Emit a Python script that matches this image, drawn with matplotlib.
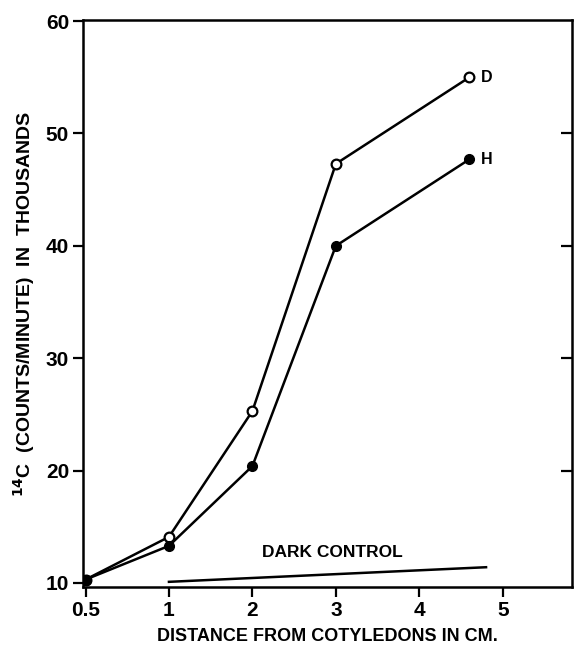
"""Plot 14C counts vs distance from cotyledons."""

import matplotlib
matplotlib.use('Agg')
import matplotlib.pyplot as plt
import numpy as np

# data (thousands of counts/minute)
distance = [0.5, 1, 2, 3, 4.6]
counts_d = [10.3, 14.1, 25.3, 47.3, 55.0]
counts_h = [10.3, 13.3, 20.4, 40.0, 47.7]
dark_x = [1, 4.8]
dark_y = [10.1, 11.4]

xticks = [0.5, 1, 2, 3, 4, 5]
xticklabels = ['0.5', '1', '2', '3', '4', '5']
yticks = [10, 20, 30, 40, 50, 60]
right_ticks = [20, 30, 40, 50]


def pos(x):
    # the 0.5 tick sits one full unit left of 1 on the original axis
    x = np.asarray(x, dtype=float)
    return np.where(x < 1, (x - 0.5) * 2, x)


plt.rcParams['font.family'] = ['Liberation Sans', 'DejaVu Sans']
plt.rcParams['font.weight'] = 'bold'
plt.rcParams['axes.labelweight'] = 'bold'
plt.rcParams['mathtext.default'] = 'bf'

fig = plt.figure(figsize=(5.74, 6.47), dpi=100)
ax = fig.add_axes([83 / 574, 60 / 647, 489 / 574, 627 / 647 - 60 / 647])

lw = 1.8
ax.plot(pos(distance), counts_d, color='black', lw=lw, marker='o',
        markersize=7, markerfacecolor='white', markeredgewidth=1.6, zorder=3)
ax.plot(pos(distance), counts_h, color='black', lw=lw, marker='o',
        markersize=7, markerfacecolor='black', zorder=3)
ax.plot(pos(dark_x), dark_y, color='black', lw=lw)

ax.text(pos(4.6) + 0.14, counts_d[-1], 'D', fontsize=11.5, va='center')
ax.text(pos(4.6) + 0.14, counts_h[-1], 'H', fontsize=11.5, va='center')
ax.text(2.12, 12.7, 'DARK CONTROL', fontsize=12.5, va='center')

ax.set_xlim(-0.03, 5.83)
ax.set_ylim(9.64, 60.1)
ax.set_xticks(pos(xticks))
ax.set_xticklabels(xticklabels)
ax.set_yticks(yticks)
ax.tick_params(axis='both', direction='out', length=7, width=1.6,
               labelsize=15, pad=3, right=False, top=False)
for sp in ax.spines.values():
    sp.set_linewidth(1.8)

# inward ticks on the right side, only for the middle values
ax.yaxis.remove_overlapping_locs = False
ax.set_yticks(right_ticks, minor=True)
ax.tick_params(axis='y', which='minor', left=False, right=True,
               direction='in', length=8, width=1.6)

ax.set_xlabel('DISTANCE FROM COTYLEDONS IN CM.', fontsize=13, labelpad=6)
ax.set_ylabel(r'$^{14}$C  (COUNTS/MINUTE)  IN  THOUSANDS', fontsize=14,
              labelpad=6)

plt.savefig('out.png', dpi=100)
